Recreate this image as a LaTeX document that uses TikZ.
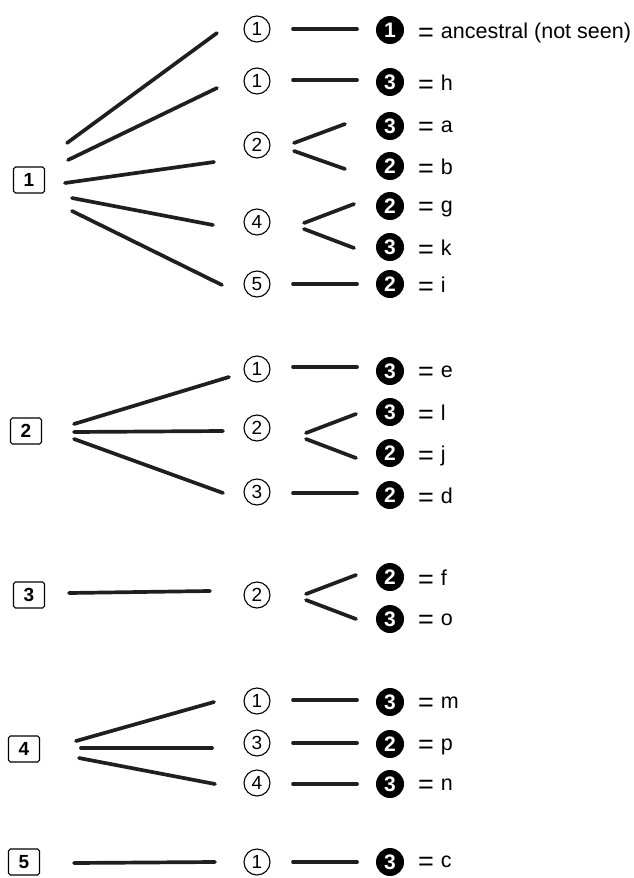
\documentclass[tikz,border=0pt]{standalone}
\usepackage{fontspec}
\setmainfont{Liberation Sans}
\begin{document}
\begin{tikzpicture}[x=1pt,y=-1pt,
  br/.style={line width=3.7pt, line cap=round, black!88},
  grp/.style={draw, rounded corners=1.8pt, line width=1.1pt, minimum width=31pt, minimum height=26pt, inner sep=0pt, font=\fontsize{19}{19}\selectfont\bfseries},
  st/.style={circle, draw, line width=1.1pt, minimum size=26pt, inner sep=0pt, font=\fontsize{19}{19}\selectfont},
  bc/.style={circle, fill=black, minimum size=28pt, inner sep=0pt, text=white, font=\fontsize{21}{21}\selectfont\bfseries},
  lab/.style={anchor=west, inner sep=0pt, yshift=-2.5pt, font=\fontsize{21.5}{21.5}\selectfont}]
\useasboundingbox (0,0) rectangle (634,878);
\newcommand{\eqlab}[1]{\raisebox{-3pt}{\fontsize{27}{27}\selectfont=}\hspace{7pt}#1}
% ---------- group 1
\node[grp] (g1) at (29,180) {1};
\node[st] (s1a) at (257,29) {1};
\node[st] (s1b) at (257,81) {1};
\node[st] (s1c) at (257,145) {2};
\node[st] (s1d) at (257,222) {4};
\node[st] (s1e) at (257,284) {5};
\node[bc] (b1a) at (390,30) {1};
\node[bc] (b1b) at (390,82) {3};
\node[bc] (b1c) at (390,126) {3};
\node[bc] (b1d) at (390,166) {2};
\node[bc] (b1e) at (390,206) {2};
\node[bc] (b1f) at (390,247) {3};
\node[bc] (b1g) at (390,284) {2};
\node[lab] (t1a) at (418,30) {\eqlab{ancestral (not seen)}};
\node[lab] (t1b) at (418,82) {\eqlab{h}};
\node[lab] (t1c) at (418,126) {\eqlab{a}};
\node[lab] (t1d) at (418,166) {\eqlab{b}};
\node[lab] (t1e) at (418,206) {\eqlab{g}};
\node[lab] (t1f) at (418,247) {\eqlab{k}};
\node[lab] (t1g) at (418,284) {\eqlab{i}};
\coordinate (p1a) at (67,143); \coordinate (q1a) at (217,33);
\coordinate (p1b) at (68,160); \coordinate (q1b) at (217,88);
\coordinate (p1c) at (65,183); \coordinate (q1c) at (214,162);
\coordinate (p1d) at (72,198); \coordinate (q1d) at (213,225);
\coordinate (p1e) at (72,211); \coordinate (q1e) at (222,285);
\draw[br] (p1a) -- (q1a);
\draw[br] (p1b) -- (q1b);
\draw[br] (p1c) -- (q1c);
\draw[br] (p1d) -- (q1d);
\draw[br] (p1e) -- (q1e);
\coordinate (h1a) at (293,29); \coordinate (k1a) at (357,29);
\coordinate (h1b) at (293,80); \coordinate (k1b) at (357,80);
\coordinate (h1g) at (293,284); \coordinate (k1g) at (357,284);
\draw[br] (h1a) -- (k1a);
\draw[br] (h1b) -- (k1b);
\draw[br] (h1g) -- (k1g);
\coordinate (f1a) at (294,143); \coordinate (u1a) at (345,124);
\coordinate (f1b) at (294,151); \coordinate (u1b) at (345,169);
\coordinate (f1c) at (304,223); \coordinate (u1c) at (354,204);
\coordinate (f1d) at (304,229); \coordinate (u1d) at (354,248);
\draw[br] (f1a) -- (u1a);
\draw[br] (f1b) -- (u1b);
\draw[br] (f1c) -- (u1c);
\draw[br] (f1d) -- (u1d);
% ---------- group 2
\node[grp] (g2) at (26,431) {2};
\node[st] (s2a) at (257,369) {1};
\node[st] (s2b) at (257,428) {2};
\node[st] (s2c) at (257,492) {3};
\node[bc] (b2a) at (390,371) {3};
\node[bc] (b2b) at (390,412) {3};
\node[bc] (b2c) at (390,453) {2};
\node[bc] (b2d) at (390,495) {2};
\node[lab] (t2a) at (418,371) {\eqlab{e}};
\node[lab] (t2b) at (418,412) {\eqlab{l}};
\node[lab] (t2c) at (418,453) {\eqlab{j}};
\node[lab] (t2d) at (418,495) {\eqlab{d}};
\coordinate (p2a) at (74,424); \coordinate (q2a) at (229,377);
\coordinate (p2b) at (74,432); \coordinate (q2b) at (223,431);
\coordinate (p2c) at (74,439); \coordinate (q2c) at (223,493);
\draw[br] (p2a) -- (q2a);
\draw[br] (p2b) -- (q2b);
\draw[br] (p2c) -- (q2c);
\coordinate (h2a) at (293,367); \coordinate (k2a) at (357,367);
\coordinate (h2d) at (293,493); \coordinate (k2d) at (357,493);
\draw[br] (h2a) -- (k2a);
\draw[br] (h2d) -- (k2d);
\coordinate (f2a) at (306,433); \coordinate (u2a) at (356,414);
\coordinate (f2b) at (306,439); \coordinate (u2b) at (356,458);
\draw[br] (f2a) -- (u2a);
\draw[br] (f2b) -- (u2b);
% ---------- group 3
\node[grp] (g3) at (29,595) {3};
\node[st] (s3a) at (257,595) {2};
\node[bc] (b3a) at (390,577) {2};
\node[bc] (b3b) at (390,619) {3};
\node[lab] (t3a) at (418,577) {\eqlab{f}};
\node[lab] (t3b) at (418,619) {\eqlab{o}};
\coordinate (p3a) at (69,593); \coordinate (q3a) at (210,591);
\draw[br] (p3a) -- (q3a);
\coordinate (f3a) at (306,594); \coordinate (u3a) at (356,575);
\coordinate (f3b) at (306,600); \coordinate (u3b) at (356,619);
\draw[br] (f3a) -- (u3a);
\draw[br] (f3b) -- (u3b);
% ---------- group 4
\node[grp] (g4) at (24,749) {4};
\node[st] (s4a) at (257,701) {1};
\node[st] (s4b) at (257,743) {3};
\node[st] (s4c) at (257,783) {4};
\node[bc] (b4a) at (390,702) {3};
\node[bc] (b4b) at (390,744) {2};
\node[bc] (b4c) at (390,784) {3};
\node[lab] (t4a) at (418,702) {\eqlab{m}};
\node[lab] (t4b) at (418,744) {\eqlab{p}};
\node[lab] (t4c) at (418,784) {\eqlab{n}};
\coordinate (p4a) at (76,741); \coordinate (q4a) at (214,702);
\coordinate (p4b) at (81,748); \coordinate (q4b) at (212,748);
\coordinate (p4c) at (79,758); \coordinate (q4c) at (215,784);
\draw[br] (p4a) -- (q4a);
\draw[br] (p4b) -- (q4b);
\draw[br] (p4c) -- (q4c);
\coordinate (h4a) at (293,700); \coordinate (k4a) at (357,700);
\coordinate (h4b) at (293,743); \coordinate (k4b) at (357,743);
\coordinate (h4c) at (293,784); \coordinate (k4c) at (357,784);
\draw[br] (h4a) -- (k4a);
\draw[br] (h4b) -- (k4b);
\draw[br] (h4c) -- (k4c);
% ---------- group 5
\node[grp] (g5) at (24,862) {5};
\node[st] (s5a) at (257,862) {1};
\node[bc] (b5a) at (390,862) {3};
\node[lab] (t5a) at (418,861) {\eqlab{c}};
\coordinate (p5a) at (74,863); \coordinate (q5a) at (215,862);
\draw[br] (p5a) -- (q5a);
\coordinate (h5a) at (293,862); \coordinate (k5a) at (357,862);
\draw[br] (h5a) -- (k5a);
\end{tikzpicture}
\end{document}
